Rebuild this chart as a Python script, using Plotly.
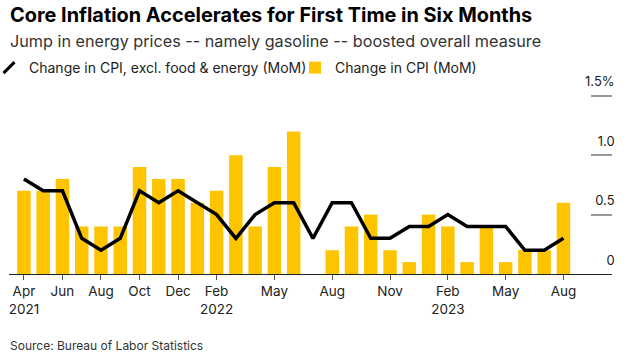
import plotly.graph_objects as go

months = [
    "Apr 2021", "May 2021", "Jun 2021", "Jul 2021", "Aug 2021", "Sep 2021",
    "Oct 2021", "Nov 2021", "Dec 2021", "Jan 2022", "Feb 2022", "Mar 2022",
    "Apr 2022", "May 2022", "Jun 2022", "Jul 2022", "Aug 2022", "Sep 2022",
    "Oct 2022", "Nov 2022", "Dec 2022", "Jan 2023", "Feb 2023", "Mar 2023",
    "Apr 2023", "May 2023", "Jun 2023", "Jul 2023", "Aug 2023",
]
cpi_mom = [0.7, 0.7, 0.8, 0.4, 0.4, 0.4, 0.9, 0.8, 0.8, 0.6, 0.7, 1.0,
           0.4, 0.9, 1.2, 0.0, 0.2, 0.4, 0.5, 0.2, 0.1, 0.5, 0.4, 0.1,
           0.4, 0.1, 0.2, 0.2, 0.6]
core_mom = [0.8, 0.7, 0.7, 0.3, 0.2, 0.3, 0.7, 0.6, 0.7, 0.6, 0.5, 0.3,
            0.5, 0.6, 0.6, 0.3, 0.6, 0.6, 0.3, 0.3, 0.4, 0.4, 0.5, 0.4,
            0.4, 0.4, 0.2, 0.2, 0.3]
x_tick_vals = ["Apr 2021", "Jun 2021", "Aug 2021", "Oct 2021", "Dec 2021",
               "Feb 2022", "May 2022", "Aug 2022", "Nov 2022", "Feb 2023",
               "May 2023", "Aug 2023"]
x_tick_text = ["Apr<br>2021", "Jun", "Aug", "Oct", "Dec", "Feb<br>2022",
               "May", "Aug", "Nov", "Feb<br>2023", "May", "Aug"]
y_tick_vals = [0, 0.5, 1.0, 1.5]
y_tick_text = ["0", "0.5", "1.0", "1.5%"]

FONT = "Inter, Liberation Sans, Arial, sans-serif"
YELLOW = "#FFC400"

W, H = 632, 359
L, R, T, B = 9, 20, 72, 85
PLOT_W = W - L - R
PLOT_H = H - T - B


def py(page_y):
    """paper y for a pixel y measured from the top of the figure"""
    return (H - B - page_y) / PLOT_H


fig = go.Figure()
fig.add_trace(go.Bar(
    x=months, y=cpi_mom, name="Change in CPI (MoM)",
    marker=dict(color=YELLOW, line=dict(width=0)),
    legendrank=2,
))
fig.add_trace(go.Scatter(
    x=months, y=core_mom, mode="lines", name="Change in CPI, excl. food & energy (MoM)",
    line=dict(color="black", width=3.5), showlegend=False,
))
# legend-only entry with a slash symbol for the line series
fig.add_trace(go.Scatter(
    x=[None], y=[None], mode="markers", name="Change in CPI, excl. food & energy (MoM)",
    marker=dict(symbol="line-ne", size=11, color="black", line=dict(color="black", width=3)),
    legendrank=1,
))

fig.update_layout(
    width=W, height=H,
    margin=dict(l=L, r=R, t=T, b=B, autoexpand=False),
    paper_bgcolor="white", plot_bgcolor="white",
    font=dict(family=FONT, color="#222"),
    bargap=0.3,
    showlegend=True,
    legend=dict(
        orientation="h", xref="paper", yref="paper",
        x=(-11 - L) / PLOT_W, y=py(52), xanchor="left", yanchor="top",
        font=dict(size=14, color="#222"), itemwidth=30,
        entrywidth=261, entrywidthmode="pixels",
        bgcolor="rgba(0,0,0,0)",
    ),
    xaxis=dict(
        type="category", range=[-0.774, 30.52],
        tickmode="array", tickvals=x_tick_vals, ticktext=x_tick_text,
        showline=True, linecolor="#222", linewidth=1,
        ticks="outside", ticklen=5, tickcolor="#555", tickwidth=1,
        ticklabelstandoff=0,
        tickfont=dict(size=13.5, color="#222"),
        showgrid=False, zeroline=False, automargin=False,
    ),
    yaxis=dict(
        range=[0, 1.7], side="right",
        tickmode="array", tickvals=y_tick_vals, ticktext=y_tick_text,
        ticks="inside", ticklen=21, tickcolor="#999", tickwidth=1.5,
        ticklabelposition="inside", ticklabelstandoff=-24, ticklabelshift=-14,
        tickfont=dict(size=13, color="#222"),
        showgrid=False, zeroline=False, showline=False, automargin=False,
    ),
    annotations=[
        dict(text="<b>Core Inflation Accelerates for First Time in Six Months</b>",
             xref="paper", yref="paper", x=-1.5 / PLOT_W, y=py(15.5),
             xanchor="left", yanchor="middle", showarrow=False,
             font=dict(size=19.9, color="#000", family=FONT)),
        dict(text="Jump in energy prices -- namely gasoline -- boosted overall measure",
             xref="paper", yref="paper", x=-1.5 / PLOT_W, y=py(41),
             xanchor="left", yanchor="middle", showarrow=False,
             font=dict(size=16.2, color="#333", family=FONT)),
        dict(text="Source: Bureau of Labor Statistics",
             xref="paper", yref="paper", x=-1.5 / PLOT_W, y=py(345.5),
             xanchor="left", yanchor="middle", showarrow=False,
             font=dict(size=12, color="#333", family=FONT)),
    ],
)

fig.write_html("out.html", config={"displayModeBar": False},
               post_script="document.body.style.margin='0';")
